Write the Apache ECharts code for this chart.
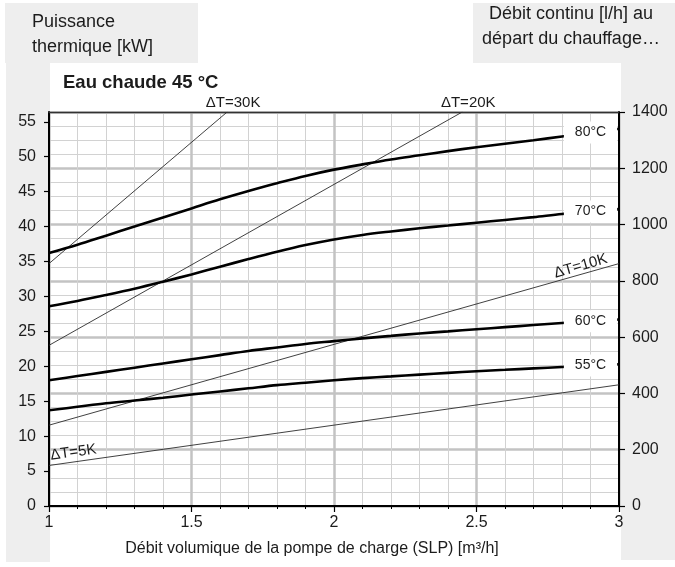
<!DOCTYPE html>
<html>
<head>
<meta charset="utf-8">
<script src="https://cdn.jsdelivr.net/npm/echarts@6/dist/echarts.min.js"></script>
<style>
  html, body { margin: 0; padding: 0; background: #ffffff; }
  #chart { width: 675px; height: 567px; }
</style>
</head>
<body>
<div id="chart"></div>
<script>
// Pump flow (m³/h) at which the heating curves are sampled
const flow = [1.0, 1.1, 1.2, 1.3, 1.4, 1.5, 1.6, 1.7, 1.8, 1.9, 2.0,
              2.1, 2.2, 2.3, 2.4, 2.5, 2.6, 2.7, 2.8, 2.9, 3.0];

// Thermal power (kW) for each heating flow temperature
const power80 = [36.2, 37.4, 38.7, 40.0, 41.3, 42.6, 43.9, 45.1, 46.2, 47.25, 48.15,
                 48.9, 49.6, 50.2, 50.8, 51.35, 51.85, 52.35, 52.9, 53.45, 54.0];
const power70 = [28.6, 29.35, 30.2, 31.1, 32.1, 33.15, 34.25, 35.35, 36.4, 37.35, 38.15,
                 38.8, 39.3, 39.75, 40.15, 40.55, 40.95, 41.35, 41.8, 42.15, 42.5];
const power60 = [18.0, 18.6, 19.2, 19.8, 20.4, 21.0, 21.6, 22.2, 22.7, 23.2, 23.6,
                 24.0, 24.35, 24.7, 25.0, 25.3, 25.6, 25.9, 26.2, 26.45, 26.7];
const power55 = [13.7, 14.2, 14.7, 15.1, 15.5, 15.95, 16.4, 16.85, 17.3, 17.65, 18.0,
                 18.3, 18.55, 18.8, 19.05, 19.3, 19.5, 19.7, 19.9, 20.1, 20.3];
const curveNames = ['80°C', '70°C', '60°C', '55°C'];
const curveLabelFlow = 2.9;

// Constant temperature-difference lines: [flow, power] end points
const dt30 = [[1, 34.7], [1.625, 56.4]];
const dt20 = [[1, 23.0], [2.45, 56.4]];
const dt10 = [[1, 11.57], [3, 34.7]];
const dt5  = [[1, 5.8],  [3, 17.35]];
const dtNames = ['ΔT=30K', 'ΔT=20K', 'ΔT=10K', 'ΔT=5K'];

// Axis ranges and tick labels
const flowTicks = [1, 1.5, 2, 2.5, 3];
const powerTicks = [0, 5, 10, 15, 20, 25, 30, 35, 40, 45, 50, 55];
const powerMax = 56.4;
const debitTicks = [0, 200, 400, 600, 800, 1000, 1200, 1400];

const FONT = '"Liberation Sans", Arial, Helvetica, sans-serif';
const TXT = '#1c1c1c';
const PANEL = '#eeeeee';

function lineAt(points, f) {
  const [a, b] = points;
  return a[1] + (b[1] - a[1]) * (f - a[0]) / (b[0] - a[0]);
}

function curveSeries(name, values) {
  const idx = flow.indexOf(curveLabelFlow);
  return {
    name: name,
    type: 'line',
    data: flow.map((f, i) => [f, values[i]]),
    showSymbol: false,
    smooth: 0.35,
    clip: true,
    z: 4,
    lineStyle: { color: '#000', width: 2.6 },
    markPoint: {
      symbol: 'circle',
      symbolSize: 0,
      z: 8,
      data: [{
        coord: [curveLabelFlow, values[idx]],
        label: {
          show: true,
          position: 'inside',
          formatter: name,
          color: TXT,
          fontFamily: FONT,
          fontSize: 14,
          backgroundColor: '#ffffff',
          padding: [4, 11, 4, 11]
        }
      }]
    }
  };
}

function dtSeries(name, points, labelFlow, rotate, offset) {
  return {
    name: name,
    type: 'line',
    data: points,
    showSymbol: false,
    clip: true,
    z: 3,
    lineStyle: { color: '#2b2b2b', width: 0.9 },
    markPoint: {
      symbol: 'circle',
      symbolSize: 0,
      z: 7,
      data: [{
        coord: [labelFlow, lineAt(points, labelFlow)],
        label: {
          show: true,
          position: 'inside',
          formatter: name,
          rotate: rotate,
          offset: offset,
          color: TXT,
          fontFamily: FONT,
          fontSize: 15
        }
      }]
    }
  };
}

const chart = echarts.init(document.getElementById('chart'), null, { renderer: 'canvas' });

const option = {
  animation: false,
  backgroundColor: '#ffffff',
  grid: { left: 49, right: 56, top: 112, bottom: 61, containLabel: false },
  graphic: [
    { type: 'rect', z: -10, shape: { x: 5, y: 3, width: 193, height: 60 }, style: { fill: PANEL } },
    { type: 'rect', z: -10, shape: { x: 6, y: 63, width: 44, height: 499 }, style: { fill: PANEL } },
    { type: 'rect', z: -10, shape: { x: 473, y: 3, width: 202, height: 60 }, style: { fill: PANEL } },
    { type: 'rect', z: -10, shape: { x: 621, y: 63, width: 54, height: 497 }, style: { fill: PANEL } },
    {
      type: 'text', x: 32, y: 9.5, z: 10,
      style: {
        text: 'Puissance\nthermique [kW]', font: '18px ' + FONT, fill: TXT,
        lineHeight: 25, align: 'left', verticalAlign: 'top', textAlign: 'left', textVerticalAlign: 'top'
      }
    },
    {
      type: 'text', x: 571, y: 1.5, z: 10,
      style: {
        text: 'Débit continu [l/h] au\ndépart du chauffage…', font: '18px ' + FONT, fill: TXT,
        lineHeight: 25, align: 'center', verticalAlign: 'top', textAlign: 'center', textVerticalAlign: 'top'
      }
    },
    {
      type: 'text', x: 63, y: 83, z: 10,
      style: {
        text: 'Eau chaude 45 °C', font: 'bold 18.5px ' + FONT, fill: TXT,
        align: 'left', verticalAlign: 'middle', textAlign: 'left', textVerticalAlign: 'middle'
      }
    }
  ],
  xAxis: [
    {
      type: 'value', min: 1, max: 3, interval: 0.5, position: 'bottom',
      axisLine: { show: true, onZero: false, lineStyle: { color: '#000', width: 2 } },
      axisTick: { show: true, length: 6, lineStyle: { color: '#000', width: 1.2 } },
      minorTick: { show: true, splitNumber: 5, length: 3, lineStyle: { color: '#000', width: 1 } },
      axisLabel: {
        margin: 9, color: TXT, fontFamily: FONT, fontSize: 16,
        customValues: flowTicks, formatter: v => String(v)
      },
      splitLine: { show: true, lineStyle: { color: '#c3c3c3', width: 2.5 } },
      minorSplitLine: { show: true, lineStyle: { color: '#d2d2d2', width: 1 } },
      name: 'Débit volumique de la pompe de charge (SLP) [m³/h]',
      nameLocation: 'middle', nameGap: 35,
      nameTextStyle: { color: TXT, fontFamily: FONT, fontSize: 16, padding: [0, 44, 0, 0] }
    },
    {
      type: 'value', min: 1, max: 3, position: 'top',
      axisLine: { show: true, onZero: false, lineStyle: { color: '#333', width: 1.3 } },
      axisTick: { show: false }, axisLabel: { show: false }, splitLine: { show: false }
    }
  ],
  yAxis: [
    {
      type: 'value', min: 0, max: powerMax, interval: 5, position: 'left',
      axisLine: { show: true, onZero: false, lineStyle: { color: '#000', width: 2 } },
      axisTick: { show: true, length: 5, customValues: powerTicks, lineStyle: { color: '#000', width: 1.2 } },
      axisLabel: {
        margin: 13, color: TXT, fontFamily: FONT, fontSize: 16,
        customValues: powerTicks, formatter: v => String(v)
      },
      splitLine: { show: false }
    },
    {
      type: 'value', min: 0, max: 1400, interval: 200, position: 'right',
      axisLine: { show: true, onZero: false, lineStyle: { color: '#000', width: 2 } },
      axisTick: { show: true, length: 6, lineStyle: { color: '#000', width: 1.2 } },
      minorTick: { show: false, splitNumber: 4 },
      axisLabel: {
        margin: 13, color: TXT, fontFamily: FONT, fontSize: 16,
        customValues: debitTicks, formatter: v => String(v)
      },
      splitLine: { show: true, lineStyle: { color: '#c3c3c3', width: 2.5 } },
      minorSplitLine: { show: true, lineStyle: { color: '#d2d2d2', width: 1 } }
    }
  ],
  series: [
    dtSeries(dtNames[0], dt30, 1.625, 0, [6, -9]),
    dtSeries(dtNames[1], dt20, 2.45, 0, [6, -9]),
    dtSeries(dtNames[2], dt10, 2.88, 16, [-2, -8]),
    dtSeries(dtNames[3], dt5, 1.09, 8, [0, -9.5]),
    curveSeries(curveNames[0], power80),
    curveSeries(curveNames[1], power70),
    curveSeries(curveNames[2], power60),
    curveSeries(curveNames[3], power55)
  ]
};

chart.setOption(option);
</script>
</body>
</html>
